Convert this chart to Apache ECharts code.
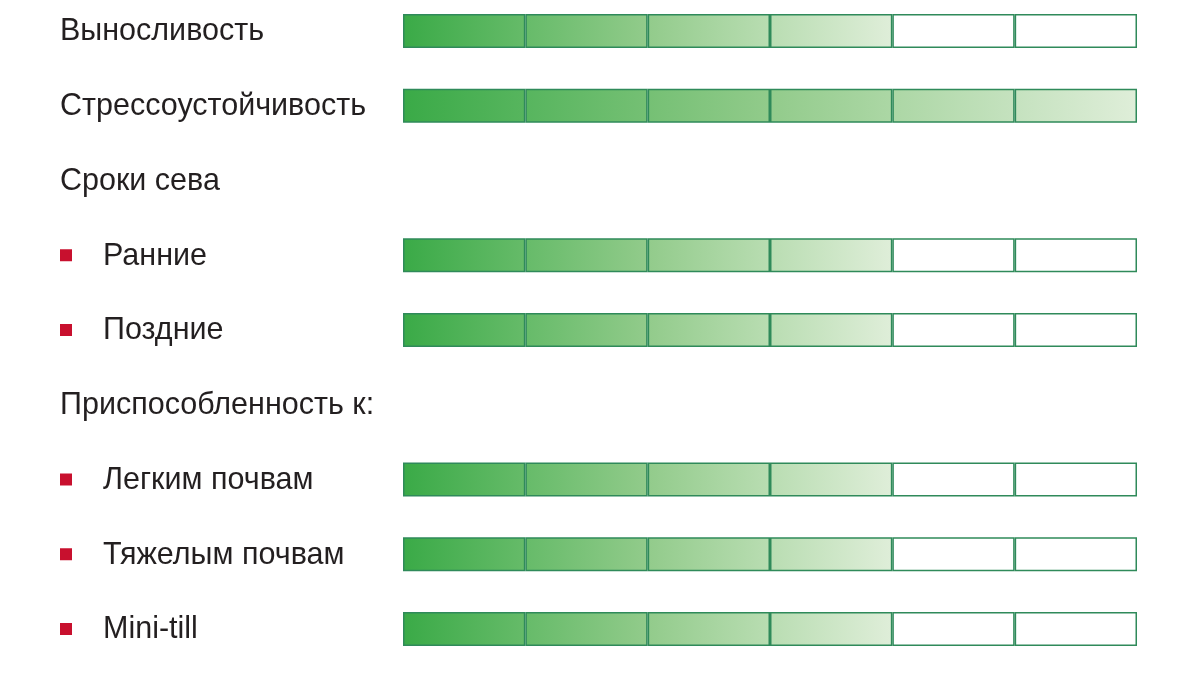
<!DOCTYPE html>
<html>
<head>
<meta charset="utf-8">
<script src="https://cdn.jsdelivr.net/npm/echarts@6/dist/echarts.min.js"></script>
<style>
  html, body { margin: 0; padding: 0; background: #fff; }
  #chart { width: 1200px; height: 675px; }
</style>
</head>
<body>
<div id="chart"></div>
<script>
// row labels, top to bottom
var labels = ['Выносливость', 'Стрессоустойчивость', 'Сроки сева', 'Ранние', 'Поздние',
    'Приспособленность к:', 'Легким почвам', 'Тяжелым почвам', 'Mini-till'];
// sub-items get a red square bullet
var bullets = [false, false, false, true, true, false, true, true, true];
// filled segments out of 6 (null = heading, no scale)
var levels = [4, 6, null, 4, 4, null, 4, 4, 4];
var segments = 6;

var gradStops = [
    [0, [58, 170, 71]],
    [0.5, [146, 203, 139]],
    [1, [223, 238, 217]]
];

var shade = function (t) {
    for (var i = 1; i < gradStops.length; i++) {
        if (t <= gradStops[i][0]) {
            var a = gradStops[i - 1], b = gradStops[i];
            var k = (t - a[0]) / (b[0] - a[0]);
            var c = a[1].map(function (v, j) { return Math.round(v + (b[1][j] - v) * k); });
            return 'rgb(' + c.join(',') + ')';
        }
    }
    return 'rgb(' + gradStops[gradStops.length - 1][1].join(',') + ')';
};

var series = [];
for (var s = 0; s < segments; s++) {
    series.push({
        type: 'bar',
        stack: 'scale',
        barWidth: 34,
        silent: true,
        data: levels.map(function (lv) {
            if (lv === null) return '-';
            var color = '#ffffff';
            if (s < lv) {
                color = new echarts.graphic.LinearGradient(0, 0, 1, 0, [
                    { offset: 0, color: shade(s / lv) },
                    { offset: 1, color: shade((s + 1) / lv) }
                ]);
            }
            return {
                value: 1,
                itemStyle: { color: color, borderColor: '#2f8a5a', borderWidth: 1.5 }
            };
        })
    });
}

var chart = echarts.init(document.getElementById('chart'));
chart.setOption({
    animation: false,
    grid: { left: 403, right: 63, top: 31, bottom: 46 },
    xAxis: { type: 'value', min: 0, max: segments, show: false },
    yAxis: {
        type: 'category',
        data: labels,
        inverse: true,
        boundaryGap: false,
        axisLine: { show: false },
        axisTick: { show: false },
        splitLine: { show: false },
        axisLabel: {
            align: 'left',
            margin: 343,
            formatter: function (val, idx) {
                if (bullets[idx]) return '{b|}{g|}{t|' + val + '}';
                return '{t|' + val + '}';
            },
            rich: {
                b: { width: 12, height: 12, backgroundColor: '#c8102e' },
                g: { width: 31 },
                t: { fontFamily: 'Liberation Sans', fontSize: 30.5, color: '#231f20', padding: [2, 0, 0, 0] }
            }
        }
    },
    series: series
});
</script>
</body>
</html>
